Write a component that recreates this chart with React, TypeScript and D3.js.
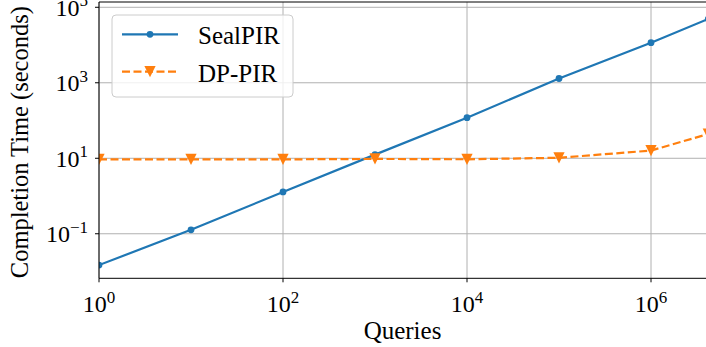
import React from 'react';
import * as d3 from 'd3';

// values (log-log)
const queries = [1, 10, 100, 1000, 1e4, 1e5, 1e6, 4194304];
const sealPIR = [0.0148, 0.127, 1.28, 12.5, 119, 1300, 11550, 49000];
const dpPIR = [9.3, 9.35, 9.35, 9.6, 9.4, 10.3, 16, 44];

const xTickExps = [0, 2, 4, 6];
const yTickExps = [-1, 1, 3, 5];
const seriesNames = ['SealPIR', 'DP-PIR'];

const width = 706;
const height = 347;
const left = 99;
const top = 2;
const bottom = 278.3;
const font = '"Liberation Serif", "DejaVu Serif", serif';
const blue = '#1f77b4';
const orange = '#ff7f0e';

function Power({ exp, x, y, anchor }: { exp: number; x: number; y: number; anchor: string }) {
  const sup = exp < 0 ? `\u2212${-exp}` : `${exp}`;
  return (
    <text x={x} y={y} textAnchor={anchor} fontFamily={font} fontSize={24} fill="#000">
      10
      <tspan dy={-9.5} fontSize={17}>{sup}</tspan>
    </text>
  );
}

function triangleDown(cx: number, cy: number, s: number) {
  return `M${cx - s},${cy - s}L${cx + s},${cy - s}L${cx},${cy + s}Z`;
}

export default function App() {
  const x = d3
    .scaleLog()
    .domain([1, 4194304])
    .range([left, left + 92 * Math.log10(4194304)]);
  const y = d3
    .scaleLog()
    .domain([Math.pow(10, -2.18), Math.pow(10, 5.14)])
    .range([bottom, top]);

  const sealPts = queries.map((q, i) => [x(q), y(sealPIR[i])] as [number, number]);
  const dpPts = queries.map((q, i) => [x(q), y(dpPIR[i])] as [number, number]);
  const line = d3.line();

  const right = width + 5;

  return (
    <svg
      width={width}
      height={height}
      style={{ position: 'absolute', left: 0, top: 0, background: '#fff' }}
    >
      <defs>
        <clipPath id="plot">
          <rect x={left} y={top} width={right - left} height={bottom - top} />
        </clipPath>
      </defs>

      {/* grid */}
      {xTickExps.map(e => (
        <line key={'gx' + e} x1={x(10 ** e)} x2={x(10 ** e)} y1={top} y2={bottom} stroke="#b0b0b0" strokeWidth={1} />
      ))}
      {yTickExps.map(e => (
        <line key={'gy' + e} x1={left} x2={right} y1={y(10 ** e)} y2={y(10 ** e)} stroke="#b0b0b0" strokeWidth={1} />
      ))}

      <g clipPath="url(#plot)">
        <path d={line(sealPts) || ''} fill="none" stroke={blue} strokeWidth={2.2} />
        {sealPts.map((p, i) => (
          <circle key={'s' + i} cx={p[0]} cy={p[1]} r={3.4} fill={blue} />
        ))}
        <path d={line(dpPts) || ''} fill="none" stroke={orange} strokeWidth={2.2} strokeDasharray="8,3.5" />
        {dpPts.map((p, i) => (
          <path key={'d' + i} d={triangleDown(p[0], p[1], 5.6)} fill={orange} />
        ))}
      </g>

      {/* spines */}
      <line x1={left} x2={left} y1={top} y2={bottom} stroke="#000" strokeWidth={1} />
      <line x1={left} x2={right} y1={bottom} y2={bottom} stroke="#000" strokeWidth={1} />
      <line x1={left} x2={right} y1={top} y2={top} stroke="#000" strokeWidth={1} />

      {/* ticks and labels */}
      {xTickExps.map(e => (
        <g key={'tx' + e}>
          <line x1={x(10 ** e)} x2={x(10 ** e)} y1={bottom} y2={bottom + 4} stroke="#000" strokeWidth={1} />
          <Power exp={e} x={x(10 ** e)} y={312} anchor="middle" />
        </g>
      ))}
      {yTickExps.map(e => (
        <g key={'ty' + e}>
          <line x1={left - 4} x2={left} y1={y(10 ** e)} y2={y(10 ** e)} stroke="#000" strokeWidth={1} />
          <Power exp={e} x={88} y={y(10 ** e) + 8.5} anchor="end" />
        </g>
      ))}

      <text
        x={(left + width) / 2}
        y={339}
        textAnchor="middle"
        fontFamily={font}
        fontSize={25}
        fill="#000"
      >
        Queries
      </text>
      <text
        transform={`translate(28,${(top + bottom) / 2 + 2}) rotate(-90)`}
        textAnchor="middle"
        fontFamily={font}
        fontSize={25}
        fontWeight="normal"
        textLength={272}
        lengthAdjust="spacingAndGlyphs"
        fill="#000"
      >
        Completion Time (seconds)
      </text>

      {/* legend */}
      <g>
        <rect x={112} y={15} width={181} height={82} rx={4} fill="#fff" fillOpacity={0.8} stroke="#cccccc" strokeWidth={1} />
        <line x1={122} x2={178} y1={34.3} y2={34.3} stroke={blue} strokeWidth={2.2} />
        <circle cx={150} cy={34.3} r={3.4} fill={blue} />
        <text x={198} y={44} fontFamily={font} fontSize={25} fill="#000">
          {seriesNames[0]}
        </text>
        <line x1={122} x2={178} y1={71.7} y2={71.7} stroke={orange} strokeWidth={2.2} strokeDasharray="8,3.5" />
        <path d={triangleDown(150, 71.7, 5.6)} fill={orange} />
        <text x={198} y={81.5} fontFamily={font} fontSize={25} fill="#000">
          {seriesNames[1]}
        </text>
      </g>
    </svg>
  );
}
